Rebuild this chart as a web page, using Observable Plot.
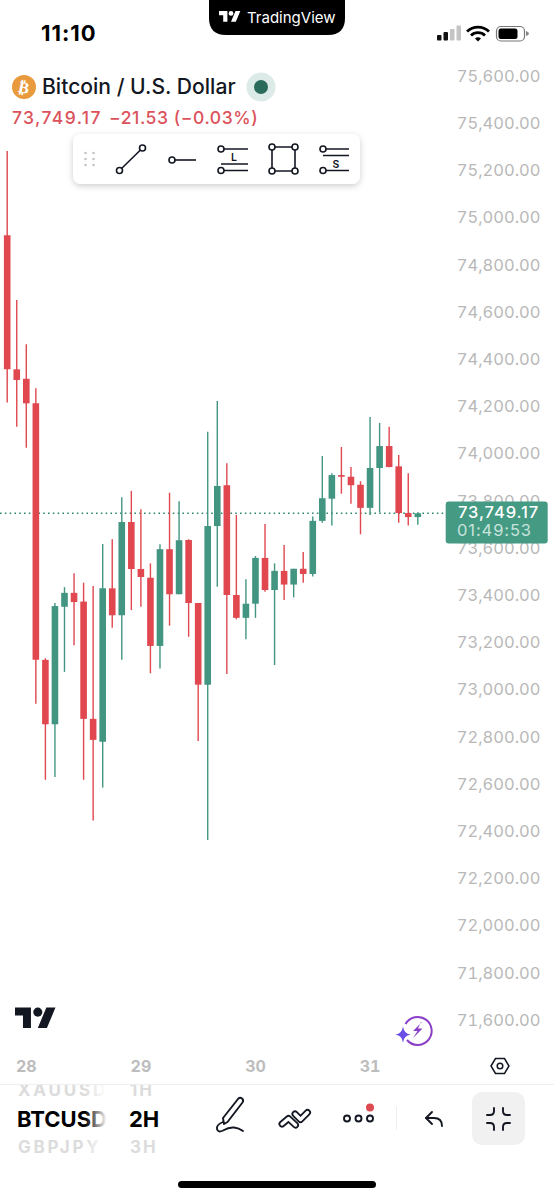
<!DOCTYPE html>
<html><head><meta charset="utf-8">
<script src="https://cdn.jsdelivr.net/npm/d3@7"></script>
<script src="https://cdn.jsdelivr.net/npm/@observablehq/plot@0.6"></script>
<style>
html,body{margin:0;padding:0;background:#fff;width:554px;height:1199px;overflow:hidden}
#wrap{position:relative;width:554px;height:1199px;font-family:Inter,"Noto Sans",sans-serif}
#wrap>svg{position:absolute;left:0;top:0;display:block}
</style></head><body><div id="wrap"></div>
<script>
const startTime = Date.UTC(2024, 2, 27, 20);
const open  = [74925,74357,74317,74213,73126,72853,73351,73410,73373,72876,72779,73429,73315,73710,73511,73474,73185,73595,73404,73634,73367,73021,73693,73866,73401,73304,73364,73558,73422,73503,73445,73512,73490,73715,73809,73909,73902,73868,73770,73939,74032,73946,73748,73731];
const high  = [75282,74651,74463,74277,73133,73367,73434,73493,73453,73439,73617,73637,73815,73842,73764,73535,73616,73834,73798,73637,73367,74093,74223,73959,73740,73468,73566,73702,73535,73613,73512,73583,73733,73990,73917,74028,73943,73883,74155,74130,74114,73994,73917,73750];
const low   = [74216,74114,74025,72940,72618,72630,73075,73188,72618,72445,72585,73262,73126,73337,73351,73069,73089,73271,73404,73224,72782,72363,73436,73066,73298,73213,73304,73415,73104,73380,73391,73453,73479,73707,73695,73830,73787,73658,73740,73751,73942,73707,73695,73698];
const close = [74357,74312,74213,73126,72853,73354,73410,73371,72876,72787,73429,73315,73710,73511,73477,73185,73595,73404,73633,73367,73021,73693,73863,73401,73304,73364,73558,73422,73503,73445,73512,73490,73715,73811,73909,73902,73866,73770,73939,74032,73943,73748,73731,73747];
const priceTicks = [75600,75400,75200,75000,74800,74600,74400,74200,74000,73800,73600,73400,73200,73000,72800,72600,72400,72200,72000,71800,71600];
const dayTicks = [28,29,30,31];
const lastPrice = 73749.17;
const GREEN = "#429580", RED = "#e0474f";

const bars = open.map((o,i)=>({time:new Date(startTime+i*7200000),open:o,high:high[i],low:low[i],close:close[i]}));
const col = d => d.close>=d.open?GREEN:RED;
const dayDates = dayTicks.map(d=>new Date(Date.UTC(2024,2,d)));

const chart = Plot.plot({
  width:554,height:1199,marginTop:0,marginLeft:0,marginRight:14,marginBottom:139,
  style:{background:"transparent",fontFamily:"Inter,'Noto Sans',sans-serif"},
  x:{type:"utc",domain:[bars[0].time,bars[bars.length-1].time],range:[6.7,417.3],label:null},
  y:{domain:[75600,71600],range:[76,1020],label:null},
  marks:[
    Plot.ruleY([lastPrice],{x1:new Date(startTime-1.4*3600000),x2:new Date(startTime+92*3600000),stroke:"#2f8a72",strokeWidth:1.6,strokeDasharray:"1.6 3.2"}),
    Plot.ruleX(bars,{x:"time",y1:"low",y2:"high",stroke:col,strokeWidth:1.4}),
    Plot.ruleX(bars,{x:"time",y1:"open",y2:"close",stroke:col,strokeWidth:6.6}),
    Plot.axisY({ticks:priceTicks,anchor:"right",tickSize:0,tickPadding:0,textAnchor:"end",
      tickFormat:d3.format(",.2f"),fontSize:16.5,fill:"#b8b8b8",label:null,style:"letter-spacing:.35px"}),
    Plot.axisX({ticks:dayDates,anchor:"bottom",tickSize:0,tickPadding:0,
      tickFormat:d=>String(d.getUTCDate()),fontSize:16,fontWeight:700,fill:"#bdbdbd",label:null,style:"letter-spacing:.8px"})
  ]
});
const wrap=document.getElementById("wrap");
wrap.appendChild(chart);

const tv='M14 22H7V11H0V4h14v18zM28 22h-8l7.5-18h8L28 22z';
const overlay=`
<svg width="554" height="1199" viewBox="0 0 554 1199" xmlns="http://www.w3.org/2000/svg" style="font-family:Inter,'Noto Sans',sans-serif">
<defs>
 <filter id="sh" x="-10%" y="-30%" width="120%" height="170%"><feDropShadow dx="0" dy="2" stdDeviation="3" flood-color="#000" flood-opacity=".2"/></filter>
 <linearGradient id="fade" x1="0" x2="1" y1="0" y2="0"><stop offset="0" stop-color="#fff" stop-opacity="0"/><stop offset="1" stop-color="#fff"/></linearGradient>
</defs>
<!-- notch -->
<path d="M209 0H345V18Q345 35 328 35H226Q209 35 209 18Z" fill="#000"/>
<g transform="translate(219,8.6) scale(.6)" fill="#fff"><path d="${tv}"/><circle cx="20" cy="8" r="4"/></g>
<text x="247" y="23" font-size="15" fill="#fff" font-weight="400">TradingView</text>
<!-- status -->
<text x="41" y="41" font-size="22" font-weight="700" fill="#000" style="letter-spacing:1px">11:10</text>
<g fill="#111"><rect x="437" y="35" width="4.5" height="5.5" rx="1"/><rect x="443.5" y="32" width="4.5" height="8.5" rx="1"/></g>
<g fill="#c4c4c4"><rect x="450" y="29" width="4.5" height="11.5" rx="1"/><rect x="456.5" y="25.5" width="4.5" height="15" rx="1"/></g>
<path d="M467 31.5a16 16 0 0 1 22 0M471 35.5a10 10 0 0 1 14 0" fill="none" stroke="#000" stroke-width="2.8"/><path d="M475 38.5a4.5 4.5 0 0 1 6 0L478 41.5Z" fill="#000"/>
<rect x="496.5" y="26.5" width="28" height="14.5" rx="4.5" fill="none" stroke="#777" stroke-width="1.2"/><rect x="498.5" y="28.5" width="19" height="10.5" rx="2.5" fill="#000"/><path d="M526 31v5q3-1 3-2.5T526 31Z" fill="#888"/>
<!-- title -->
<circle cx="24" cy="87" r="12" fill="#e89a3c"/>
<text x="24" y="93" font-size="16" font-weight="700" fill="#fff" text-anchor="middle" transform="rotate(12 24 87)" style="font-family:'DejaVu Sans'">₿</text>
<text x="42" y="94" font-size="21.1" font-weight="500" fill="#131722">Bitcoin / U.S. Dollar</text>
<circle cx="261" cy="87" r="14.5" fill="#dcebe8"/><circle cx="261" cy="87" r="7" fill="#2a6b5b"/>
<text x="12" y="124" font-size="17.5" font-weight="500" fill="#dc525b" style="letter-spacing:1.4px">73,749.17</text>
<text x="109" y="124" font-size="17.5" font-weight="500" fill="#dc525b" style="letter-spacing:.57px">−21.53 (−0.03%)</text>
<!-- toolbar -->
<rect x="73" y="134" width="287" height="50" rx="8" fill="#fff" filter="url(#sh)"/>
<g fill="#c4c4c4"><circle cx="85.5" cy="153" r="1.3"/><circle cx="93.5" cy="153" r="1.3"/><circle cx="85.5" cy="159" r="1.3"/><circle cx="93.5" cy="159" r="1.3"/><circle cx="85.5" cy="165" r="1.3"/><circle cx="93.5" cy="165" r="1.3"/></g>
<g fill="#fff" stroke="#131722" stroke-width="1.6">
 <path d="M119.5 170.5L142.5 148" /><circle cx="119.5" cy="170.5" r="3"/><circle cx="142.5" cy="148" r="3"/>
 <path d="M172 160H196"/><circle cx="172" cy="160" r="3"/>
 <path d="M221 149H248M221 164H248M221 170.5H248"/><circle cx="221" cy="149" r="3"/><circle cx="221" cy="170.5" r="3"/>
 <path d="M272 147H295V171H272Z" fill="none"/><circle cx="272" cy="147" r="3"/><circle cx="295" cy="147" r="3"/><circle cx="272" cy="171" r="3"/><circle cx="295" cy="171" r="3"/>
 <path d="M323 149H349M323 155.5H349M323 170.5H349"/><circle cx="323" cy="149" r="3"/><circle cx="323" cy="170.5" r="3"/>
</g>
<text x="234" y="161" font-size="10.5" font-weight="600" fill="#131722" text-anchor="middle">L</text>
<text x="336" y="168" font-size="10.5" font-weight="600" fill="#131722" text-anchor="middle">S</text>
<!-- price tag -->
<rect x="445.7" y="501.5" width="102" height="42" rx="3" fill="#459a83"/>
<text x="458" y="517.5" font-size="16.5" font-weight="500" fill="#fff" style="letter-spacing:.9px">73,749.17</text>
<text x="457" y="536" font-size="16.5" fill="#c6e3dc" style="letter-spacing:.9px">01:49:53</text>
<!-- logo -->
<g transform="translate(15,1003) scale(1.14)" fill="#131722"><path d="${tv}"/><circle cx="20" cy="8" r="4"/></g>
<!-- bolt -->
<path d="M405.5 1024a14 14 0 1 1 1.5 16" fill="none" stroke="#8b3fc8" stroke-width="2"/>
<path d="M422 1022l-9 9h4.5l-4.5 7 9.500-9.500h-4.500l3-6.500z" fill="#8b3fc8"/>
<path d="M403 1026.500q1 7 7.500 8q-6.500 1-7.500 8q-1-7-7.500-8q6.500-1 7.500-8z" fill="#6b4de6"/>
<!-- settings -->
<path d="M491 1066l4.500-7.500h9l4.500 7.500l-4.500 7.500h-9z" fill="none" stroke="#131722" stroke-width="1.500"/><circle cx="500" cy="1066" r="2.800" fill="none" stroke="#131722" stroke-width="1.500"/>
<!-- wheel -->
<text x="17" y="1127" font-size="22" font-weight="700" fill="#000">BTCUSD</text>
<text x="18" y="1096" font-size="17" font-weight="700" fill="#dcdcdc" style="letter-spacing:2.8px">XAUUSD</text>
<text x="18" y="1153" font-size="17" font-weight="700" fill="#dcdcdc" style="letter-spacing:2.8px">GBPJPY</text>
<rect x="85" y="1085" width="22" height="72" fill="url(#fade)"/>
<rect x="107" y="1085" width="15" height="72" fill="#fff"/>
<text x="130" y="1096" font-size="17" font-weight="700" fill="#dcdcdc" style="letter-spacing:2px">1H</text>
<text x="129" y="1127" font-size="22" font-weight="700" fill="#000">2H</text>
<text x="130" y="1153" font-size="17" font-weight="700" fill="#dcdcdc" style="letter-spacing:2px">3H</text>
<rect x="0" y="1078" width="170" height="6" fill="#fff"/>
<line x1="0" x2="554" y1="1084.500" y2="1084.500" stroke="#eeeeee"/>
<!-- bottom tools -->
<g fill="none" stroke="#131722" stroke-width="1.900" stroke-linecap="round" stroke-linejoin="round">
 <path d="M224 1124l-1-6 15-19q2-2 4-.5t.5 4l-15 19.500z"/>
 <path d="M223 1122q-7 3-6 7t6 1.500q6-3.500 11-3t9 3.500"/>
 <circle cx="347" cy="1118.500" r="3"/><circle cx="358.500" cy="1118.500" r="3"/><circle cx="370" cy="1118.500" r="3"/>
 <path d="M432 1112l-6 6 6 6"/><path d="M426 1118h8q8 0 8 8"/>
</g>
<g fill="none" stroke-linecap="round" stroke-linejoin="round">
 <path d="M282 1124l6.500-5.500 7 6.500M295 1114l5.500 5.500 7-7" stroke="#131722" stroke-width="7"/>
 <path d="M282 1124l6.500-5.500 7 6.500M295 1114l5.500 5.500 7-7" stroke="#fff" stroke-width="3.400"/>
</g>
<circle cx="370" cy="1107.500" r="4" fill="#dc4a52"/>
<line x1="396.500" x2="396.500" y1="1106" y2="1130" stroke="#eeeeee"/>
<rect x="472" y="1092" width="53" height="53" rx="10" fill="#f1f1f1"/>
<g fill="none" stroke="#131722" stroke-width="1.900" stroke-linecap="round">
 <path d="M494 1108v3q0 4-4 4h-3M503 1108v3q0 4 4 4h3M494 1130v-3q0-4-4-4h-3M503 1130v-3q0-4 4-4h3"/>
</g>
<rect x="178" y="1181" width="198" height="7" rx="3.500" fill="#000"/>
</svg>`;
wrap.insertAdjacentHTML("beforeend",overlay);
</script></body></html>
